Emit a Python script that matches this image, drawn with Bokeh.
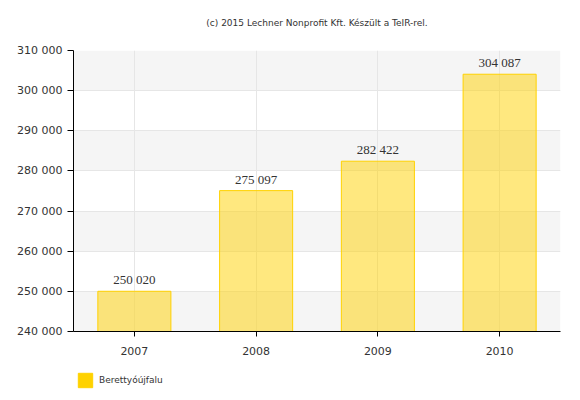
from bokeh.plotting import figure
from bokeh.models import ColumnDataSource, FixedTicker, Legend, LegendItem, Label, Range1d, BoxAnnotation
from bokeh.layouts import column
from bokeh.embed import file_html
from bokeh.resources import INLINE

years = ["2007", "2008", "2009", "2010"]
population = [250020, 275097, 282422, 304087]
series_name = "Berettyóújfalu"
y_ticks = [240000, 250000, 260000, 270000, 280000, 290000, 300000, 310000]
y_tick_labels = ["240 000", "250 000", "260 000", "270 000", "280 000", "290 000", "300 000", "310 000"]
title_text = "(c) 2015 Lechner Nonprofit Kft. Készült a TeIR-rel."

FONT = "DejaVu Sans"
W = 564

labels = [f"{v:,}".replace(",", " ") for v in population]
src = ColumnDataSource(dict(x=years, top=population, label=labels))

# title strip (30 px high, 1 data unit = 1 px vertically)
p0 = figure(width=W, height=30, output_backend="svg", toolbar_location=None,
            x_axis_type=None, y_axis_type=None, x_range=Range1d(0, 1), y_range=Range1d(0, 30))
p0.min_border = 0
p0.outline_line_color = None
p0.add_layout(Label(x=0.5, y=8, text=title_text, text_align="center", text_baseline="middle",
                    text_font=FONT, text_font_size="9px", text_color="#333333"))

p = figure(x_range=years, y_range=(y_ticks[0], y_ticks[-1]), width=W, height=330,
           output_backend="svg", toolbar_location=None, title=None)
p.min_border_left = 73
p.min_border_right = 4
p.min_border_top = 20
p.min_border_bottom = 29
p.outline_line_color = None
p.background_fill_color = "white"

# alternating bands: shaded from the lowest tick upward, every other band
for lo, hi in list(zip(y_ticks[:-1], y_ticks[1:]))[::2]:
    p.add_layout(BoxAnnotation(bottom=lo, top=hi, fill_color="#f5f5f5", fill_alpha=1,
                               line_color=None, level="image"))

p.vbar(x="x", top="top", bottom=y_ticks[0], width=0.6, source=src,
       fill_color="#ffd200", fill_alpha=0.5, line_color="#ffd200", line_width=1)

p.text(x="x", y="top", text="label", source=src, text_align="center", text_baseline="bottom",
       y_offset=-4, text_font_size="13px", text_color="#333333", text_font=FONT)

p.yaxis.ticker = FixedTicker(ticks=y_ticks)
p.yaxis.major_label_overrides = {t: l for t, l in zip(y_ticks, y_tick_labels)}
p.yaxis.minor_tick_line_color = None
p.yaxis.major_tick_out = 6
p.yaxis.major_tick_in = 0
p.yaxis.major_label_standoff = 5
for ax in (p.xaxis, p.yaxis):
    ax.axis_line_color = "black"
    ax.major_tick_line_color = "black"
    ax.major_label_text_font = FONT
    ax.major_label_text_font_size = "11px"
    ax.major_label_text_color = "#333333"
p.xaxis.major_tick_out = 5
p.xaxis.major_tick_in = 0
p.xaxis.major_label_standoff = 10

p.ygrid.ticker = FixedTicker(ticks=y_ticks)
p.ygrid.grid_line_color = "#e6e6e6"
p.ygrid.band_fill_color = None
p.xgrid.grid_line_color = "#e6e6e6"

# legend strip below the chart
p2 = figure(width=W, height=32, output_backend="svg", toolbar_location=None,
            x_axis_type=None, y_axis_type=None, x_range=Range1d(10, 11), y_range=Range1d(10, 11))
p2.min_border = 0
p2.outline_line_color = None
dummy = p2.vbar(x=[0], top=[1], width=0.5, fill_color="#ffd200", line_color="#ffd200")
legend = Legend(items=[LegendItem(label=series_name, renderers=[dummy])],
                orientation="horizontal", location=(3, 3),
                glyph_width=18, glyph_height=18, label_height=18, label_text_font=FONT,
                label_text_font_size="9px", label_text_color="#333333",
                border_line_color=None, background_fill_alpha=0, padding=0, margin=0,
                label_standoff=5)
p2.add_layout(legend, "center")

layout = column(p0, p, p2, spacing=0)
open("out.html", "w").write(file_html(layout, INLINE))
